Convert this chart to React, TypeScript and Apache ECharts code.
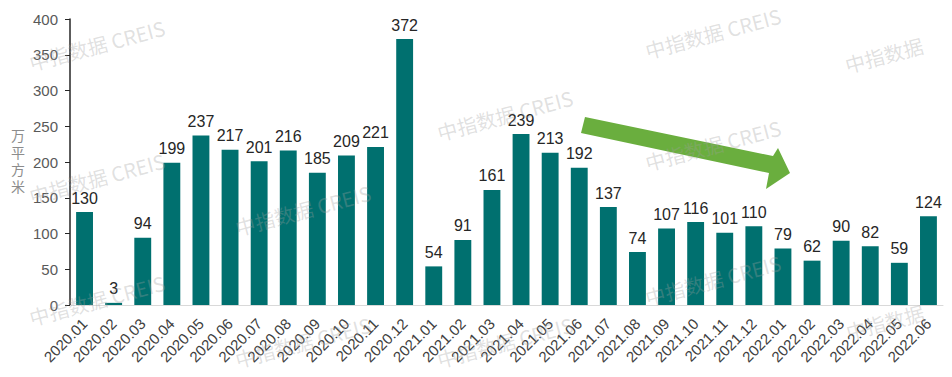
import React, { useEffect, useRef } from "react";
import * as echarts from "echarts";

const categories = [
  "2020.01", "2020.02", "2020.03", "2020.04", "2020.05", "2020.06", "2020.07", "2020.08", "2020.09", "2020.10",
  "2020.11", "2020.12", "2021.01", "2021.02", "2021.03", "2021.04", "2021.05", "2021.06", "2021.07", "2021.08",
  "2021.09", "2021.10", "2021.11", "2021.12", "2022.01", "2022.02", "2022.03", "2022.04", "2022.05", "2022.06",
];
const values = [
  130, 3, 94, 199, 237, 217, 201, 216, 185, 209,
  221, 372, 54, 91, 161, 239, 213, 192, 137, 74,
  107, 116, 101, 110, 79, 62, 90, 82, 59, 124,
];
const yAxisName = "万平方米";
const watermarkText = "中指数据 CREIS";
const watermarkShort = "中指数据";
const watermarkSpots: [number, number][] = [
  [97, 45], [97, 178], [97, 300],
  [303, 210], [303, 342],
  [505, 115], [505, 342],
  [713, 33], [713, 145], [713, 280],
];
const watermarkShortSpots: [number, number][] = [
  [884, 55], [885, 322],
];

export default function App() {
  const ref = useRef<HTMLDivElement>(null);
  useEffect(() => {
    if (!ref.current) return;
    const chart = echarts.init(ref.current, undefined, { renderer: "svg" });
    const font = "'Liberation Sans', Arial, sans-serif";
    const cjk = "'Noto Sans CJK SC', sans-serif";
    const wm = (text: string, x: number, y: number) => ({
      type: "text",
      z: 200,
      x,
      y,
      rotation: 0.26,
      silent: true,
      style: {
        text,
        x: 0,
        y: 0,
        align: "center",
        verticalAlign: "middle",
        fill: "rgba(160,160,160,0.33)",
        fontSize: 20,
        fontWeight: "normal",
        fontFamily: cjk,
      },
    });
    chart.setOption({
      animation: false,
      backgroundColor: "#ffffff",
      grid: { left: 70, right: 9, top: 19, bottom: 72, containLabel: false },
      xAxis: {
        type: "category",
        data: categories,
        axisLine: { show: true, lineStyle: { color: "#d9d9d9", width: 1 } },
        axisTick: { show: false },
        axisLabel: {
          rotate: 45,
          interval: 0,
          color: "#404040",
          fontSize: 15,
          fontFamily: font,
          margin: 16,
        },
      },
      yAxis: {
        type: "value",
        min: 0,
        max: 400,
        interval: 50,
        splitLine: { show: false },
        axisLine: { show: true, lineStyle: { color: "#262626", width: 1.5 } },
        axisTick: { show: true, inside: false, length: 5, lineStyle: { color: "#262626" } },
        axisLabel: { color: "#595959", fontSize: 15, fontFamily: font, margin: 12 },
      },
      series: [
        {
          type: "bar",
          data: values,
          barWidth: "58%",
          itemStyle: { color: "#00706f" },
          label: {
            show: true,
            position: "top",
            distance: 6,
            color: "#262626",
            fontSize: 16,
            fontFamily: font,
          },
        },
      ],
      graphic: [
        ...yAxisName.split("").map((ch, i) => ({
          type: "text",
          x: 18,
          y: 136 + i * 17,
          style: {
            text: ch,
            x: 0,
            y: 0,
            align: "center",
            verticalAlign: "middle",
            fill: "#8c8c8c",
            fontSize: 14,
            lineHeight: 15,
            fontFamily: "'Liberation Sans', 'Noto Sans CJK SC', sans-serif",
          },
        })),
        {
          type: "polygon",
          z: 100,
          shape: {
            points: [
              [585, 117],
              [773, 156],
              [778, 148],
              [790, 173],
              [766, 189],
              [769, 173],
              [581, 133],
            ],
          },
          style: { fill: "#6aae3e" },
        },
        ...watermarkSpots.map(([x, y]) => wm(watermarkText, x, y)),
        ...watermarkShortSpots.map(([x, y]) => wm(watermarkShort, x, y)),
      ],
    });
    return () => chart.dispose();
  }, []);
  return <div ref={ref} style={{ width: 952, height: 377, position: "absolute", left: 0, top: 0 }} />;
}
